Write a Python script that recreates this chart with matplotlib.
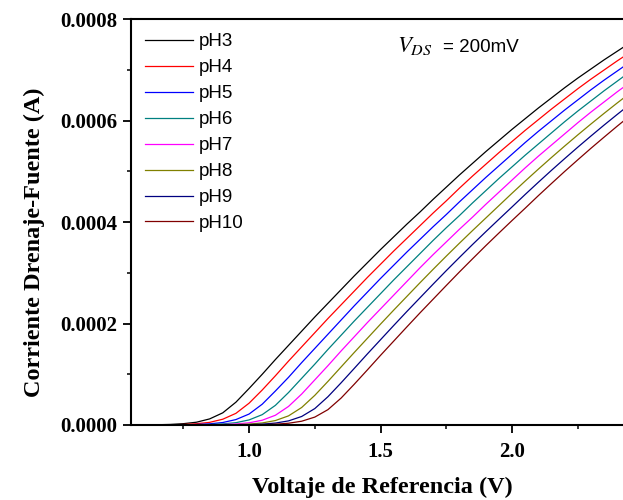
import matplotlib
matplotlib.use("Agg")
import matplotlib.pyplot as plt
from matplotlib.ticker import MultipleLocator, FormatStrFormatter
from matplotlib.font_manager import FontProperties

# Reference voltage grid (V)
v_ref = [0.55, 0.60, 0.65, 0.70, 0.75, 0.80, 0.85, 0.90, 0.95, 1.00,
         1.05, 1.10, 1.15, 1.20, 1.25, 1.30, 1.35, 1.40, 1.45, 1.50,
         1.55, 1.60, 1.65, 1.70, 1.75, 1.80, 1.85, 1.90, 1.95, 2.00,
         2.05, 2.10, 2.15, 2.20, 2.25, 2.30, 2.35, 2.40, 2.45]

# Drain-source current in microamps
i_ph3 = [0.05, 0.2, 0.5, 1.1, 2.6, 5.5, 12, 24, 45, 72, 100, 129, 157, 185, 213, 240, 267, 294, 320,
         346, 371, 396, 420, 445, 469, 493, 516, 539, 561, 583, 604, 625, 645, 665, 684, 702, 720, 737, 754]
i_ph4 = [0, 0.05, 0.19, 0.47, 1.0, 2.5, 5.2, 11.4, 23, 43, 69, 97, 126, 154, 182, 210, 237, 264, 291,
         317, 343, 368, 393, 418, 442, 467, 491, 514, 537, 559, 581, 602, 623, 643, 663, 682, 700, 718, 735]
i_ph5 = [0, 0, 0.04, 0.17, 0.44, 0.98, 2.3, 4.9, 10.7, 21.6, 41, 67, 94, 123, 151, 179, 207, 235, 262,
         289, 315, 341, 366, 391, 415, 440, 464, 488, 511, 534, 557, 579, 600, 621, 641, 661, 680, 698, 716]
i_ph6 = [0, 0, 0, 0.035, 0.16, 0.41, 0.92, 2.15, 4.6, 10, 20.4, 38.7, 64, 92, 120, 149, 177, 205, 232,
         259, 286, 312, 338, 364, 389, 413, 438, 462, 486, 509, 532, 554, 576, 598, 619, 639, 659, 678, 697]
i_ph7 = [0, 0, 0, 0, 0.03, 0.14, 0.38, 0.86, 2.0, 4.3, 9.4, 19.2, 36.6, 61, 89, 117, 146, 174, 202,
         229, 256, 283, 310, 336, 361, 386, 410, 435, 459, 483, 507, 530, 552, 574, 596, 617, 637, 657, 676]
i_ph8 = [0, 0, 0, 0, 0, 0.025, 0.125, 0.35, 0.8, 1.85, 4.05, 8.75, 18, 34.5, 58.5, 86, 114.5, 143, 171,
         199, 226.5, 253.5, 280.5, 307, 333, 358.5, 383.5, 408, 432.5, 457, 481, 504.5, 527.5, 550, 572,
         593.5, 614.5, 635, 655]
i_ph9 = [0, 0, 0, 0, 0, 0, 0.02, 0.11, 0.32, 0.74, 1.7, 3.8, 8.1, 16.8, 32.4, 55.8, 83.2, 111.6, 140.2,
         168.2, 196.2, 223.8, 250.8, 277.8, 304.4, 330.4, 356, 381, 405.6, 430, 454.6, 478.6, 502.2,
         525.2, 547.8, 569.8, 591.4, 612.4, 633]
i_ph10 = [0, 0, 0, 0, 0, 0, 0, 0.015, 0.095, 0.29, 0.68, 1.55, 3.47, 7.45, 15.6, 30.3, 53.1, 80.4, 108.7,
          137.4, 165.4, 193.4, 221.1, 248.1, 275.1, 301.8, 327.8, 353.5, 378.5, 403.2, 427.5, 452.2,
          476.2, 499.9, 522.9, 545.6, 567.6, 589.3, 610.3]

labels = ["pH3", "pH4", "pH5", "pH6", "pH7", "pH8", "pH9", "pH10"]
series = [i_ph3, i_ph4, i_ph5, i_ph6, i_ph7, i_ph8, i_ph9, i_ph10]
colors = ["#000000", "#FF0000", "#0000FF", "#008080", "#FF00FF", "#808000", "#000080", "#800000"]

plt.rcParams['mathtext.fontset'] = 'stix'

fig = plt.figure(figsize=(6.23, 5.0), dpi=100)
ax = fig.add_axes([131/623, 75/500, 1 - 131/623, (425-19.3)/500])

for lab, vals, c in zip(labels, series, colors):
    ax.plot(v_ref, [v * 1e-6 for v in vals], color=c, lw=0.9, label=lab)

ax.set_xlim(0.551, 2.422)
ax.set_ylim(0, 0.0008)

ax.xaxis.set_major_locator(MultipleLocator(0.5))
ax.xaxis.set_minor_locator(MultipleLocator(0.25))
ax.yaxis.set_major_locator(MultipleLocator(0.0002))
ax.yaxis.set_minor_locator(MultipleLocator(0.0001))
ax.xaxis.set_major_formatter(FormatStrFormatter('%.1f'))
ax.yaxis.set_major_formatter(FormatStrFormatter('%.4f'))

ax.spines['right'].set_visible(False)
for s in ['left', 'bottom', 'top']:
    ax.spines[s].set_linewidth(1.5)

ax.tick_params(which='major', direction='out', length=6, width=1.3, top=False, right=False)
ax.tick_params(which='minor', direction='out', length=3.2, width=1.1, top=False, right=False)
ax.tick_params(axis='x', which='major', pad=6)
ax.tick_params(axis='y', which='major', pad=4)

tick_fp = FontProperties(family='Liberation Serif', weight='bold', size=15)
for t in ax.get_xticklabels() + ax.get_yticklabels():
    t.set_fontproperties(tick_fp)

ax.set_xlabel('Voltaje de Referencia (V)', family='Liberation Serif', weight='bold', size=17.5)
ax.xaxis.set_label_coords(0.51, -0.128)
ax.set_ylabel('Corriente Drenaje-Fuente (A)', family='Liberation Serif', weight='bold', size=17.5)
ax.yaxis.set_label_coords(-0.175, 0.451)

leg = ax.legend(loc='upper left', bbox_to_anchor=(0.0, 1.0), frameon=False,
                prop=dict(family='Liberation Sans', size=13.5), handlelength=2.56,
                labelspacing=0.47, handletextpad=0.32, borderpad=0.4, borderaxespad=0.35)

ax.text(0.541, 0.919, r'$V_{DS}$', transform=ax.transAxes, fontsize=16.5, ha='left', va='baseline')
ax.text(0.634, 0.919, '= 200mV', transform=ax.transAxes, family='Liberation Sans', fontsize=13.5,
        ha='left', va='baseline')

fig.savefig('out.png', dpi=100)
